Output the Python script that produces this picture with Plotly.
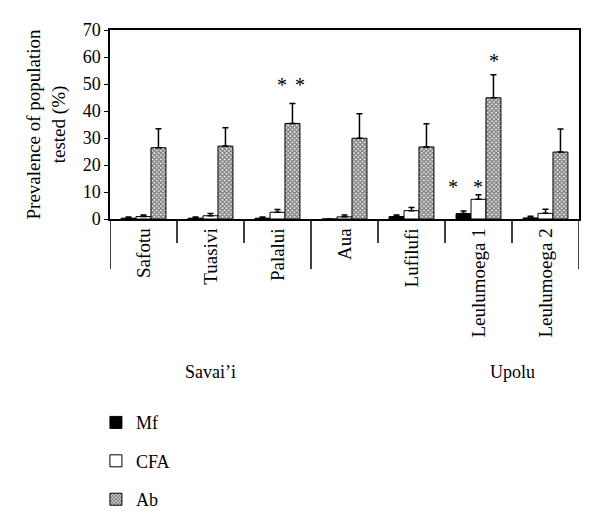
import plotly.graph_objects as go

sites = ["Safotu", "Tuasivi", "Palalui", "Aua", "Lufilufi", "Leulumoega 1", "Leulumoega 2"]
mf = [0.3, 0.3, 0.3, 0.0, 0.9, 2.0, 0.4]
mf_err = [0.4, 0.4, 0.4, 0.0, 0.6, 1.0, 0.6]
cfa = [0.9, 1.2, 2.5, 0.8, 3.1, 7.3, 2.1]
cfa_err = [0.6, 0.8, 1.0, 0.7, 1.2, 1.7, 1.5]
ab = [26.4, 27.0, 35.4, 29.9, 26.7, 44.9, 24.8]
ab_err = [7.0, 6.8, 7.4, 9.1, 8.6, 8.5, 8.5]
islands = ["Savai\u2019i", "Upolu"]
island_pos = [1, 5.5]
yticks = [0, 10, 20, 30, 40, 50, 60, 70]

FONT = "Liberation Serif"
idx = list(range(len(sites)))

fig = go.Figure()
common_err = dict(type="data", symmetric=False, color="black", thickness=1.5, width=3)
fig.add_bar(x=idx, y=mf, name="Mf", legendgroup="a",
            marker=dict(color="black", line=dict(color="black", width=1)),
            error_y=dict(array=mf_err, arrayminus=[0]*7, **common_err))
fig.add_bar(x=idx, y=cfa, name="CFA", legendgroup="b",
            marker=dict(color="white", line=dict(color="black", width=1)),
            error_y=dict(array=cfa_err, arrayminus=[0]*7, **common_err))
fig.add_bar(x=idx, y=ab, name="Ab", legendgroup="c",
            marker=dict(color="white", line=dict(color="black", width=1),
                        pattern=dict(shape="x", fgcolor="black", bgcolor="white",
                                     size=3, solidity=0.7, fillmode="overlay")),
            error_y=dict(array=ab_err, arrayminus=[0]*7, **common_err))

# separators below axis
H = 189.0
short = -24 / H
long_ = -50 / H
for xv in [-0.5, 0.5, 1.5, 2.5, 3.5, 4.5, 5.5, 6.5]:
    y1 = long_ if xv in (-0.5, 2.5, 6.5) else short
    fig.add_shape(type="line", xref="x", yref="paper", x0=xv, x1=xv, y0=0, y1=y1,
                  line=dict(color="black", width=1.5))

ann = []
star_font = dict(family=FONT, size=20, color="black")
ann.append(dict(x=2.2, y=49.5, xref="x", yref="y", text="*\u2009\u2009*", showarrow=False, font=star_font))
ann.append(dict(x=5.224, y=58.5, xref="x", yref="y", text="*", showarrow=False, font=star_font))
ann.append(dict(x=4.62, y=11.8, xref="x", yref="y", text="*", showarrow=False, font=star_font))
ann.append(dict(x=4.99, y=11.8, xref="x", yref="y", text="*", showarrow=False, font=star_font))
for name, pos in zip(islands, island_pos):
    ann.append(dict(x=pos, y=-165 / H, xref="x", yref="paper", text=name, showarrow=False,
                    font=dict(family=FONT, size=18, color="black")))

fig.update_layout(
    width=592, height=521,
    margin=dict(l=102, r=21, t=22, b=310, autoexpand=False),
    paper_bgcolor="white", plot_bgcolor="white",
    barmode="group", bargap=0.33, bargroupgap=0,
    font=dict(family=FONT, size=17, color="black"),
    showlegend=True,
    legend=dict(x=-0.03, y=-0.98, xanchor="left", yanchor="top",
                tracegroupgap=12, font=dict(family=FONT, size=18),
                bgcolor="rgba(0,0,0,0)"),
    annotations=ann,
    xaxis=dict(range=[-0.5, 6.5], tickvals=idx, ticktext=sites, tickangle=-90,
               ticks="", showline=True, linecolor="black", linewidth=1.5, mirror=True,
               automargin=False,
               showgrid=False, zeroline=False, tickfont=dict(family=FONT, size=19)),
    yaxis=dict(range=[0, 70], tickvals=yticks, ticks="outside", ticklen=4,
               tickcolor="black", showline=True, linecolor="black", linewidth=1.5,
               mirror=True, showgrid=False, zeroline=False, automargin=False,
               tickfont=dict(family=FONT, size=18),
               title=dict(text="Prevalence of population<br>tested (%)",
                          font=dict(family=FONT, size=19), standoff=12)),
)

fig.write_html("out.html")
